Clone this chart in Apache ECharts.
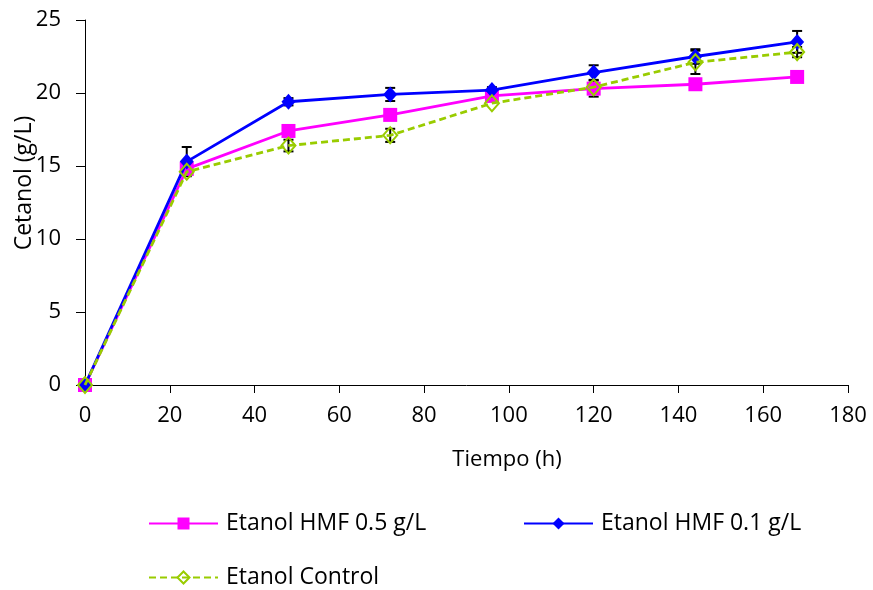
<!DOCTYPE html>
<html>
<head>
<meta charset="utf-8">
<script src="https://cdn.jsdelivr.net/npm/echarts@6/dist/echarts.min.js"></script>
<style>
html,body{margin:0;padding:0;background:#fff;}
#chart{width:873px;height:590px;}
</style>
</head>
<body>
<div id="chart"></div>
<script>
// Data
const timeHours = [0, 24, 48, 72, 96, 120, 144, 168];
const hmf05 = [0, 14.8, 17.4, 18.5, 19.8, 20.3, 20.6, 21.1];
const hmf01 = [0, 15.3, 19.4, 19.9, 20.2, 21.4, 22.5, 23.5];
const control = [0, 14.6, 16.4, 17.1, 19.3, 20.4, 22.1, 22.8];
const errHmf05 = [0, 0, 0, 0, 0, 0.55, 0, 0];
const errHmf01 = [0, 1.0, 0.25, 0.45, 0.2, 0.5, 0.5, 0.75];
const errControl = [0, 0, 0.4, 0.45, 0, 0, 0.8, 0.35];
const seriesNames = ['Etanol HMF 0.5 g/L', 'Etanol HMF 0.1 g/L', 'Etanol Control'];
const xTitle = 'Tiempo (h)';
const yTitle = 'Cetanol (g/L)';

const FONT = 'Open Sans';
const pts = (ys) => timeHours.map((t, i) => [t, ys[i]]);
const errPts = (ys, es) => timeHours.map((t, i) => [t, ys[i], es[i]]).filter(d => d[2] > 0);

function errorSeries(ys, es) {
  return {
    type: 'custom',
    z: 1,
    silent: true,
    data: errPts(ys, es),
    renderItem: function (params, api) {
      const x = api.value(0), y = api.value(1), e = api.value(2);
      const top = api.coord([x, y + e]);
      const bot = api.coord([x, y - e]);
      const hw = 5;
      const st = { stroke: '#000', lineWidth: 2 };
      return {
        type: 'group',
        children: [
          { type: 'line', shape: { x1: top[0], y1: top[1], x2: bot[0], y2: bot[1] }, style: st },
          { type: 'line', shape: { x1: top[0] - hw, y1: top[1], x2: top[0] + hw, y2: top[1] }, style: st },
          { type: 'line', shape: { x1: bot[0] - hw, y1: bot[1], x2: bot[0] + hw, y2: bot[1] }, style: st }
        ]
      };
    }
  };
}

const chart = echarts.init(document.getElementById('chart'), null, { renderer: 'canvas' });

const legendText = { fontFamily: FONT, fontSize: 23, color: '#000', padding: [0, 0, 0, 3] };

const option = {
  backgroundColor: '#fff',
  animation: false,
  grid: { left: 85, right: 25, top: 20, bottom: 205, containLabel: false },
  xAxis: {
    type: 'value', min: 0, max: 180, interval: 20,
    axisLine: { show: true, onZero: false, lineStyle: { color: '#000', width: 1 } },
    axisTick: { show: true, inside: false, length: 8, lineStyle: { color: '#000' } },
    axisLabel: { fontFamily: FONT, fontSize: 22, color: '#000', margin: 20 },
    splitLine: { show: false }
  },
  yAxis: {
    type: 'value', min: 0, max: 25, interval: 5,
    axisLine: { show: true, lineStyle: { color: '#000', width: 1 } },
    axisTick: { show: true, inside: false, length: 9, lineStyle: { color: '#000' } },
    axisLabel: { fontFamily: FONT, fontSize: 22, color: '#000', margin: 24 },
    splitLine: { show: false }
  },
  graphic: [
    { type: 'text', x: 24, y: 183, rotation: Math.PI / 2,
      style: { text: yTitle, fontFamily: FONT, fontSize: 23, fill: '#000', align: 'center', verticalAlign: 'middle' } },
    { type: 'text', x: 507, y: 460,
      style: { text: xTitle, fontFamily: FONT, fontSize: 22, fill: '#000', align: 'center', verticalAlign: 'middle' } }
  ],
  legend: [
    { data: [seriesNames[0]], left: 148, top: 512, padding: 0, itemWidth: 69, itemHeight: 15, textStyle: legendText },
    { data: [seriesNames[1]], left: 523, top: 512, padding: 0, itemWidth: 69, itemHeight: 15, textStyle: legendText },
    { data: [seriesNames[2]], left: 148, top: 566, padding: 0, itemWidth: 69, itemHeight: 15, textStyle: legendText }
  ],
  series: [
    errorSeries(hmf05, errHmf05),
    errorSeries(control, errControl),
    errorSeries(hmf01, errHmf01),
    {
      name: seriesNames[0], type: 'line', z: 2, data: pts(hmf05),
      symbol: 'rect', symbolSize: 14,
      lineStyle: { color: '#FF00FF', width: 2.8 },
      itemStyle: { color: '#FF00FF' }
    },
    {
      name: seriesNames[1], type: 'line', z: 3, data: pts(hmf01),
      symbol: 'diamond', symbolSize: [14, 16],
      lineStyle: { color: '#0000FF', width: 2.8 },
      itemStyle: { color: '#0000FF' }
    },
    {
      name: seriesNames[2], type: 'line', z: 4, data: pts(control),
      symbol: 'diamond', symbolSize: [14, 16],
      lineStyle: { color: '#99CC00', width: 2.8, type: [7, 4] },
      itemStyle: { color: 'rgba(255,255,255,0)', borderColor: '#99CC00', borderWidth: 2 }
    }
  ]
};
chart.setOption(option);
</script>
</body>
</html>
